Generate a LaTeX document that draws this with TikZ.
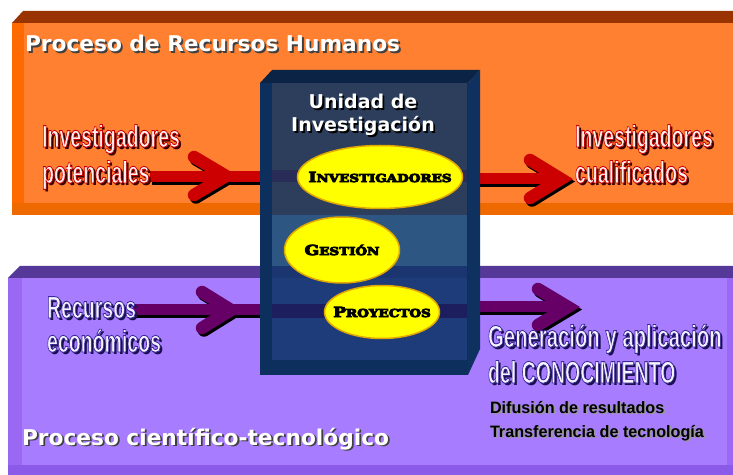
\documentclass[tikz,border=0pt]{standalone}
\usepackage{fontspec}
\setmainfont{Liberation Sans}
\newfontfamily\verd{DejaVu Sans}
\newfontfamily\capserif{DejaVu Serif}
\usepackage{graphicx}
\usetikzlibrary{calc,shapes.geometric}

\definecolor{orFace}{HTML}{FF8030}
\definecolor{orLeft}{HTML}{FF6A00}
\definecolor{orBot}{HTML}{EE6A00}
\definecolor{orTop}{HTML}{993300}
\definecolor{puFace}{HTML}{A87CFF}
\definecolor{puLeft}{HTML}{9A68F2}
\definecolor{puBot}{HTML}{8C5AE8}
\definecolor{puTop}{HTML}{563899}
\definecolor{nvFrame}{HTML}{0D2F5E}
\definecolor{nvTop}{HTML}{0B2445}
\definecolor{nvSide}{HTML}{0E3160}
\definecolor{slate}{HTML}{2C3E5C}
\definecolor{midBand}{HTML}{2E5682}
\definecolor{lowBand}{HTML}{1F3C7A}
\definecolor{bevBand}{HTML}{1A3570}
\definecolor{arrBandA}{HTML}{2A2C58}
\definecolor{arrBandB}{HTML}{1C1E5E}
\definecolor{arRed}{HTML}{CC0000}
\definecolor{arPur}{HTML}{660066}
\definecolor{ellFill}{HTML}{FFFF00}
\definecolor{ellDraw}{HTML}{E0A800}
\definecolor{pinkW}{HTML}{FFF0F0}
\definecolor{lavW}{HTML}{F4F2FF}
\definecolor{redSh}{HTML}{3A0000}
\definecolor{purSh}{HTML}{1A1050}
\definecolor{greySh}{HTML}{404040}

% outlined text: fill colour #1, stroke rgb #2 (pdf operands), width #3
\newcommand{\outlined}[4]{{\color{#1}\special{pdf:literal direct 2 Tr #3 w #2 RG}#4\special{pdf:literal direct 0 Tr}}}
\newcommand{\shadowed}[2]{\makebox[0pt][l]{\hspace*{1.8bp}\raisebox{-1.8bp}{\color{#1}#2}}#2}
\newcommand{\redlab}[1]{\makebox[0pt][l]{\hspace*{2.2bp}\raisebox{-2.2bp}{\color{redSh}\scalebox{0.63}[1]{#1}}}\scalebox{0.63}[1]{\outlined{pinkW}{0.8 0 0}{0.9}{#1}}}
\newcommand{\purlab}[1]{\makebox[0pt][l]{\hspace*{2.2bp}\raisebox{-2.2bp}{\color{purSh}\scalebox{0.63}[1]{#1}}}\scalebox{0.63}[1]{\outlined{lavW}{0.23 0.16 0.6}{0.9}{#1}}}
\newcommand{\fakesc}[2]{\scalebox{1.22}[1]{\outlined{black}{0 0 0}{0.8}{{\fontsize{14bp}{14bp}\selectfont #1}{\fontsize{11bp}{11bp}\selectfont #2}}}}

\tikzset{
  shaft/.style={line width=11bp, line cap=butt},
  chev/.style={line width=12.5bp, line cap=round, line join=miter},
  shd/.style={black, transform canvas={shift={(2bp,-2.5bp)}}},
  condfont/.style={font=\bfseries\fontsize{31bp}{36bp}\selectfont},
  titlefont/.style={font=\verd\bfseries\fontsize{21.7bp}{26bp}\selectfont},
  boxfont/.style={font=\verd\bfseries\fontsize{19bp}{23bp}\selectfont},
  smallfont/.style={font=\bfseries\fontsize{16.5bp}{20bp}\selectfont},
  ell/.style={ellipse, fill=ellFill, draw=ellDraw, line width=1.5bp},
  elltext/.style={font=\capserif\bfseries, text=black},
}

\begin{document}
\begin{tikzpicture}[x=1bp,y=-1bp, every node/.style={inner sep=0pt, outer sep=0pt}]
\useasboundingbox (0,0) rectangle (733,475);
\fill[white] (0,0) rectangle (733,475);

% orange process box
\fill[orTop] (12,23) -- (23,11) -- (733,11) -- (733,23) -- cycle;
\fill[orFace] (12,23) rectangle (733,215);
\fill[orLeft] (12,23) rectangle (24,215);
\fill[orBot] (12,203) rectangle (733,215);

% purple process box
\fill[puTop] (8,278) -- (20,266) -- (733,266) -- (733,278) -- cycle;
\fill[puFace] (8,278) rectangle (733,475);
\fill[puLeft] (8,278) rectangle (22,475);
\fill[puBot] (8,465) rectangle (733,475);
\fill[puLeft] (727,278) rectangle (733,465);

% titles
\node[titlefont, text=white, anchor=base west] (hr) at (25,52) {\shadowed{greySh}{Proceso de Recursos Humanos}};
\node[titlefont, text=white, anchor=base west] (ct) at (22,445) {\shadowed{greySh}{Proceso científico-tecnológico}};

% unit box (position)
\node[minimum width=208bp, minimum height=292bp, anchor=north west] (box) at (260,83) {};

% arrow coordinates
\coordinate (rLs) at (150,177);
\coordinate (rLv) at (226,176);
\coordinate (rRv) at (561,179);
\coordinate (pLs) at (133,310);
\coordinate (pLv) at (231,310);
\coordinate (pRv) at (568,307);

% red arrows: shadows
\draw[shaft, shd] (rLs) -- (rLs -| box.west);
\draw[chev, shd] ($(rLv)+(-32,-19)$) -- (rLv) -- ($(rLv)+(-32,19)$);
\draw[shaft, shd] (rRv -| box.east) -- (rRv);
\draw[chev, shd] ($(rRv)+(-31,-19)$) -- (rRv) -- ($(rRv)+(-31,19)$);
% red arrows
\draw[shaft, arRed] (rLs) -- (rLs -| box.west);
\draw[chev, arRed] ($(rLv)+(-32,-19)$) -- (rLv) -- ($(rLv)+(-32,19)$);
\draw[shaft, arRed] (rRv -| box.east) -- (rRv);
\draw[chev, arRed] ($(rRv)+(-31,-19)$) -- (rRv) -- ($(rRv)+(-31,19)$);

% purple arrows: shadows
\draw[shaft, shd] (pLs) -- (pLs -| box.west);
\draw[chev, shd] ($(pLv)+(-29,-18)$) -- (pLv) -- ($(pLv)+(-29,18)$);
\draw[shaft, shd] (pRv -| box.east) -- (pRv);
\draw[chev, shd] ($(pRv)+(-30,-18)$) -- (pRv) -- ($(pRv)+(-30,18)$);
% purple arrows
\draw[shaft, arPur] (pLs) -- (pLs -| box.west);
\draw[chev, arPur] ($(pLv)+(-29,-18)$) -- (pLv) -- ($(pLv)+(-29,18)$);
\draw[shaft, arPur] (pRv -| box.east) -- (pRv);
\draw[chev, arPur] ($(pRv)+(-30,-18)$) -- (pRv) -- ($(pRv)+(-30,18)$);

% side labels
\node[condfont, anchor=base west] (ip1) at (42,147) {\redlab{Investigadores}};
\node[condfont, anchor=base west] (ip2) at (42,183) {\redlab{potenciales}};
\node[condfont, anchor=base west] (iq1) at (575,147) {\redlab{Investigadores}};
\node[condfont, anchor=base west] (iq2) at (575,183) {\redlab{cualificados}};
\node[condfont, anchor=base west] (re1) at (47,318) {\purlab{Recursos}};
\node[condfont, anchor=base west] (re2) at (47,352) {\purlab{económicos}};
\node[condfont, anchor=base west] (ge1) at (488,347) {\purlab{\scalebox{1.04}[1]{Generación y aplicación}}};
\node[condfont, anchor=base west] (ge2) at (488,383) {\purlab{del CONOCIMIENTO}};
\node[smallfont, anchor=base west] (df) at (490,413) {\shadowed{black!40}{\scalebox{0.98}[1]{Difusión de resultados}}};
\node[smallfont, anchor=base west] (tt) at (490,437) {\shadowed{black!40}{\scalebox{0.98}[1]{Transferencia de tecnología}}};

% unit box drawing
\fill[nvFrame] (box.north west) rectangle (box.south east);
\fill[nvTop] (box.north west) -- ++(12,-13) -- ++(208,0) -- (box.north east) -- cycle;
\fill[nvSide] (box.north east) -- ++(12,-13) -- ++(0,279) -- (box.south east) -- cycle;
\fill[slate] (272,83) rectangle (467,215);
\fill[arrBandA] (272,170) rectangle (467,182);
\fill[midBand] (272,215) rectangle (467,266);
\fill[bevBand] (272,266) rectangle (467,278);
\fill[lowBand] (272,278) rectangle (467,360);
\fill[arrBandB] (272,304) rectangle (467,318);

% unit title
\node[boxfont, text=white, anchor=base] (u1) at (363,109) {\shadowed{black}{Unidad de}};
\node[boxfont, text=white, anchor=base] (u2) at (363,132) {\shadowed{black}{Investigación}};

% ellipses
\node[ell, minimum width=165bp, minimum height=63bp] (e1) at (380,177) {};
\node[elltext] at (e1.center) {\fakesc{I}{NVESTIGADORES}};
\node[ell, minimum width=115bp, minimum height=66bp] (e2) at (342,250) {};
\node[elltext] at (e2.center) {\fakesc{G}{ESTIÓN}};
\node[ell, minimum width=115bp, minimum height=53bp] (e3) at (382,312) {};
\node[elltext] at (e3.center) {\fakesc{P}{ROYECTOS}};
\end{tikzpicture}
\end{document}
